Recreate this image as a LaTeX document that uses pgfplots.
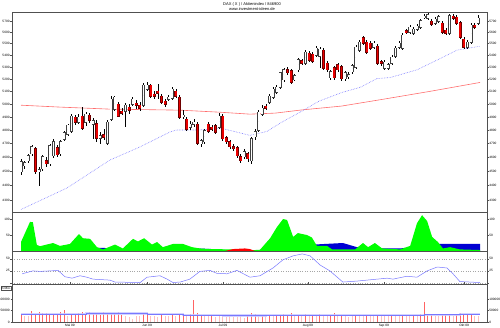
\documentclass[border=0pt]{standalone}
\usepackage{pgfplots}
\pgfplotsset{compat=1.18}
\usepackage{pgfplotstable}
\usepackage{fontspec}
\setmainfont{Liberation Sans}

\definecolor{candlered}{RGB}{235,0,0}
\definecolor{redline}{RGB}{110,0,0}
\definecolor{mared}{RGB}{255,110,110}
\definecolor{mablue}{RGB}{120,120,255}
\definecolor{areagreen}{RGB}{0,255,0}
\definecolor{areablue}{RGB}{0,0,210}
\definecolor{volred}{RGB}{255,100,100}
\definecolor{volpink}{RGB}{255,190,190}
\definecolor{volband}{RGB}{200,200,255}
\definecolor{framegray}{RGB}{80,80,80}

% daily candles (index, open, high, low, close), rising days
\pgfplotstableread{
i o h l c
0 4495 4588 4474 4566
1 4537 4573 4516 4559
2 4573 4624 4559 4610
3 4624 4690 4610 4675
5 4495 4530 4397 4509
6 4516 4617 4502 4602
8 4552 4697 4537 4682
9 4610 4734 4595 4712
11 4624 4727 4610 4712
12 4734 4793 4719 4779
13 4771 4846 4756 4838
14 4793 4922 4779 4907
16 4861 4922 4846 4899
18 4861 4937 4831 4922
20 4846 4892 4734 4869
22 4741 4786 4697 4756
24 4704 4876 4690 4861
25 4884 5063 4869 5039
26 4961 5063 4945 5055
29 4945 5008 4823 4992
31 5000 5055 4984 5039
34 4992 5166 4977 5150
35 5118 5182 5102 5150
41 5039 5070 5023 5055
42 5047 5134 5031 5118
45 4907 4953 4884 4914
47 4823 4869 4801 4846
48 4846 4884 4823 4861
50 4697 4734 4675 4719
51 4712 4808 4697 4793
55 4823 4929 4808 4907
62 4602 4660 4588 4638
64 4573 4749 4552 4734
65 4749 4808 4727 4786
66 4801 4953 4786 4937
67 4922 4992 4907 4969
69 5015 5078 5000 5063
70 5055 5134 5039 5118
71 5094 5150 5078 5134
72 5134 5262 5118 5254
73 5198 5294 5182 5278
76 5198 5246 5182 5230
77 5278 5377 5262 5360
79 5335 5444 5319 5427
82 5402 5478 5385 5461
83 5393 5470 5294 5453
86 5214 5278 5198 5262
90 5206 5270 5190 5254
91 5222 5262 5206 5238
92 5262 5327 5246 5310
93 5302 5487 5286 5470
94 5444 5531 5427 5513
98 5470 5522 5453 5504
101 5294 5360 5278 5343
102 5294 5335 5278 5319
103 5335 5402 5319 5385
104 5393 5478 5377 5461
105 5470 5522 5453 5504
106 5461 5593 5444 5575
108 5602 5664 5584 5646
109 5593 5646 5575 5628
110 5628 5673 5611 5655
111 5646 5718 5628 5700
112 5736 5763 5718 5745
113 5727 5772 5709 5754
115 5682 5736 5664 5718
116 5700 5754 5682 5736
119 5593 5763 5575 5745
124 5470 5531 5453 5513
125 5513 5682 5495 5664
127 5682 5754 5664 5727
}\up

% falling days
\pgfplotstableread{
i o h l c
4 4660 4675 4481 4495
7 4573 4602 4530 4552
10 4668 4690 4602 4617
15 4899 4914 4838 4861
17 4907 4977 4801 4816
19 4914 4929 4853 4876
21 4846 4876 4712 4741
23 4764 4808 4727 4749
27 5000 5015 4899 4907
28 4945 4969 4914 4929
30 4977 5000 4922 4953
32 5008 5031 4961 4992
33 4992 5015 4945 4969
36 5150 5166 5047 5063
37 5078 5102 5039 5063
38 5102 5158 5039 5086
39 5063 5078 5000 5015
40 5023 5039 4977 5000
43 5102 5118 5047 5063
44 5055 5070 4884 4899
46 4884 4899 4793 4808
49 4846 4861 4690 4704
52 4846 4861 4779 4793
53 4823 4838 4793 4808
54 4831 4846 4771 4786
56 4907 4922 4719 4734
57 4741 4756 4697 4712
58 4712 4727 4660 4675
59 4675 4697 4646 4660
60 4668 4682 4595 4610
61 4602 4624 4559 4573
63 4624 4638 4566 4588
68 4984 5000 4953 4969
74 5278 5302 5238 5254
75 5270 5286 5158 5174
78 5352 5369 5319 5335
80 5419 5436 5343 5360
81 5410 5427 5335 5352
84 5444 5461 5278 5294
85 5335 5352 5262 5278
87 5294 5310 5198 5214
88 5319 5335 5262 5278
89 5302 5319 5190 5206
95 5549 5566 5487 5504
96 5513 5531 5410 5427
97 5504 5522 5444 5461
99 5478 5495 5319 5335
100 5343 5360 5310 5335
107 5611 5628 5584 5602
114 5700 5718 5655 5673
117 5682 5700 5584 5602
118 5619 5637 5575 5593
120 5745 5763 5709 5727
121 5736 5754 5664 5682
122 5682 5700 5540 5558
123 5540 5558 5453 5470
126 5664 5682 5628 5646
}\dn

% moving averages
\pgfplotstableread{
i p
0 4992
10.8 4977
24.7 4961
44.2 4953
55.3 4937
63.6 4922
70.6 4930
78 4955
89 4985
100.6 5039
113.6 5102
127.5 5174
}\mared

\pgfplotstableread{
i p
0 4236
12.8 4382
24.7 4579
33 4674
41.4 4786
43.3 4801
49.7 4801
55.3 4816
60.8 4779
63.6 4760
68.3 4790
72.5 4861
78 4945
82.7 5023
89.2 5094
94.2 5134
98.9 5206
102.5 5214
110 5278
115.6 5360
121.1 5444
127.5 5478
}\mablue

\pgfplotstableread{
i v
0 30000
1 25000
2 28000
3 48000
4 35000
5 42000
6 40000
7 38000
8 30000
9 35000
10 33000
11 45000
12 50000
13 28000
14 35000
15 30000
16 38000
17 42000
18 30000
19 45000
20 35000
21 40000
22 30000
23 42000
24 38000
25 40000
26 35000
27 42000
28 30000
29 28000
30 20000
31 15000
32 25000
33 28000
34 38000
35 30000
36 25000
37 28000
38 22000
39 30000
40 25000
41 28000
42 30000
43 25000
44 35000
45 30000
46 28000
47 35000
48 95000
49 38000
50 30000
51 28000
52 25000
53 30000
54 22000
55 25000
56 28000
57 22000
58 25000
59 20000
60 22000
61 25000
62 18000
63 30000
64 40000
65 35000
66 28000
67 30000
68 25000
69 30000
70 28000
71 32000
72 30000
73 35000
74 30000
75 38000
76 28000
77 30000
78 26000
79 33000
80 28000
81 30000
82 25000
83 35000
84 28000
85 26000
86 30000
87 40000
88 28000
89 30000
90 25000
91 22000
92 28000
93 30000
94 26000
95 28000
96 30000
97 25000
98 28000
99 30000
100 26000
101 28000
102 25000
103 30000
104 28000
105 26000
106 30000
107 28000
108 25000
109 32000
110 28000
111 35000
112 88000
113 33000
114 30000
115 28000
116 26000
117 32000
118 30000
119 35000
120 28000
121 30000
122 40000
123 35000
124 32000
125 30000
126 28000
127 25000
}\vol

\newcommand{\tickfont}{\fontsize{3.2}{3.6}\selectfont}

\pgfplotsset{
  panel/.style={
    scale only axis, width=475pt, anchor=south west,
    xmin=-2.5, xmax=129.44,
    axis line style={framegray, line width=0.6pt},
    tick style={framegray, line width=0.3pt},
    tick align=outside, major tick length=1.5pt,
    tick label style={font=\tickfont, inner sep=0.7pt},
    scaled y ticks=false,
    xtick=\empty,
    clip=true,
  },
  % price panel: linear axis in ln(price), labelled with prices
  pricepanel/.style={panel, at={(12pt,116pt)}, height=200pt,
    ymin=8.347353, ymax=8.662332,
    ytick={8.366370,8.389360,8.411832,8.433811,8.455318,8.476371,8.496990,8.517193,8.536996,8.556414,8.575462,8.594154,8.612503,8.630522,8.648221},
    yticklabels={4300,4400,4500,4600,4700,4800,4900,5000,5100,5200,5300,5400,5500,5600,5700}},
  ebar/.style={only marks, mark=none, mark size=0pt,
    mark options={draw=none, fill=none}, forget plot,
    error bars/y dir=both, error bars/y explicit, error bars/error mark=none,
    error bars/error bar style={#1}},
}

\begin{document}
\begin{tikzpicture}
\useasboundingbox (0,0) rectangle (500pt,328pt);

\node[font=\fontsize{4}{5}\selectfont, inner sep=0pt] at (252pt,324pt) {DAX ( X ) / Aktienindex / 846900};
\node[font=\fontsize{4}{5}\selectfont, inner sep=0pt] at (252pt,318.5pt) {www.investment-ideen.de};

% ---------- main price panel ----------
\begin{axis}[pricepanel]
\addplot[mared, line width=0.6pt] table[x=i, y expr={ln(\thisrow{p})}] {\mared};
\addplot[mablue, densely dotted, line width=0.6pt] table[x=i, y expr={ln(\thisrow{p})}] {\mablue};
% wicks
\addplot[ebar={black, line width=0.4pt}] table[x=i, y expr={(ln(\thisrow{h})+ln(\thisrow{l}))/2}, y error expr={(ln(\thisrow{h})-ln(\thisrow{l}))/2}] {\up};
\addplot[ebar={black, line width=0.4pt}] table[x=i, y expr={(ln(\thisrow{h})+ln(\thisrow{l}))/2}, y error expr={(ln(\thisrow{h})-ln(\thisrow{l}))/2}] {\dn};
% bodies: outline then fill
\addplot[ebar={black!75, line width=3pt}] table[x=i, y expr={(ln(\thisrow{o})+ln(\thisrow{c}))/2}, y error expr={abs(ln(\thisrow{c})-ln(\thisrow{o}))/2+0.0009}] {\up};
\addplot[ebar={white, line width=1.8pt}] table[x=i, y expr={(ln(\thisrow{o})+ln(\thisrow{c}))/2}, y error expr={abs(ln(\thisrow{c})-ln(\thisrow{o}))/2}] {\up};
\addplot[ebar={redline, line width=3pt}] table[x=i, y expr={(ln(\thisrow{o})+ln(\thisrow{c}))/2}, y error expr={abs(ln(\thisrow{c})-ln(\thisrow{o}))/2+0.0009}] {\dn};
\addplot[ebar={candlered, line width=1.8pt}] table[x=i, y expr={(ln(\thisrow{o})+ln(\thisrow{c}))/2}, y error expr={abs(ln(\thisrow{c})-ln(\thisrow{o}))/2}] {\dn};
\end{axis}
\begin{axis}[pricepanel, yticklabel pos=right]
\addplot[draw=none] coordinates {(0,8.5)};
\end{axis}

% ---------- panel 2 ----------
\begin{axis}[panel, at={(12pt,77pt)}, height=39pt, ymin=0, ymax=122,
    ytick={50,100}, yticklabels={50,100}]
\addplot[fill=areablue, draw=none] coordinates {(0,10) (4.7,15) (8.1,16) (11.7,12) (16.4,8) (20,10) (22.8,10) (24.7,8) (30.3,5) (35.8,5) (41.4,3) (48.9,8) (53.3,6) (56.7,3) (63.6,1) (71.9,3) (77.5,8) (81.1,20) (89.4,25) (93.3,12) (100.6,8) (105.3,8) (110.8,15) (115.6,22) (127.5,22)} \closedcycle;
\addplot[fill=areagreen, draw=none] coordinates {(0,28) (2.5,91) (3.3,90) (4.4,19) (5.3,15) (8.9,25) (10.8,16) (13.6,22) (16.1,53) (17.2,40) (19.2,38) (21.1,12) (22.8,5) (26.1,20) (28.3,8) (31.1,38) (32.5,30) (34.2,40) (36.4,20) (37.8,28) (39.4,12) (42.2,22) (45,22) (47.5,12) (49.7,8) (52.5,6) (58.9,5) (63.6,2) (66.4,4) (69.2,40) (71.1,75) (72.8,100) (73.9,97) (75.6,44) (76.9,56) (79.4,50) (80.8,42) (82.2,16) (85,16) (86.4,5) (92.8,5) (95,25) (96.4,12) (98.3,25) (100.3,8) (105.3,5) (108.1,16) (110,87) (111.4,112) (112.8,94) (114.2,44) (115.8,28) (117.2,8) (119.2,12) (121.9,5) (127.5,3)} \closedcycle;
\addplot[fill=red, draw=none] coordinates {(56.7,0) (58.9,6) (62.2,8) (63.6,6) (65,0)} \closedcycle;
\end{axis}
\begin{axis}[panel, at={(12pt,77pt)}, height=39pt, ymin=0, ymax=122,
    ytick={50,100}, yticklabels={50,100}, yticklabel pos=right]
\addplot[draw=none] coordinates {(0,50)};
\end{axis}

% ---------- panel 3 ----------
\begin{axis}[panel, at={(12pt,44pt)}, height=33pt, ymin=-2, ymax=66,
    ytick={0,25,50}, yticklabels={,25,50},
    ymajorgrids, grid style={dotted, gray!70, line width=0.4pt}]
\addplot[mablue, line width=0.5pt] coordinates {(0.3,19) (3.3,25) (5.3,24) (8.1,25) (10.3,26) (12.2,13) (14.2,10) (16.4,15) (18.3,12) (20,8) (24.7,6) (26.1,2) (33.1,1) (35,12) (38.6,15) (40.6,8) (42.2,1) (44.2,2) (46.9,8) (49.7,24) (52.5,26) (54.4,20) (57.2,19) (60,26) (63.6,12) (66.4,15) (70,31) (72.8,48) (75.6,56) (78.1,60) (80.3,56) (83.1,37) (85.8,25) (89.4,2) (93.3,4) (96.1,6) (98.9,8) (101.7,10) (103.3,8) (107.2,14) (110,12) (112.8,25) (115.6,33) (118.3,31) (120,19) (121.9,3) (127.5,1)};
\end{axis}
\begin{axis}[panel, at={(12pt,44pt)}, height=33pt, ymin=-2, ymax=66,
    ytick={0,25,50}, yticklabels={,25,50}, yticklabel pos=right]
\addplot[draw=none] coordinates {(0,25)};
\end{axis}

% ---------- volume panel ----------
\begin{axis}[panel, at={(12pt,6pt)}, height=38pt, ymin=0, ymax=165000,
    ytick={0,50000,100000}, yticklabels={0,50000,100000},
    xtick={13.6,35,56.1,79.7,100.8,123.1},
    xticklabels={Mai 09,Jun 09,Jul 09,Aug 09,Sep 09,Okt 09}]
\addplot[ycomb, volpink, line width=0.9pt, mark=none, y filter/.expression={y<30000 ? y : nan}] table[x=i, y=v] {\vol};
\addplot[ycomb, volred, line width=0.9pt, mark=none, y filter/.expression={y<30000 ? nan : y}] table[x=i, y=v] {\vol};
\addplot[const plot, volband, line width=2.2pt, opacity=0.8] coordinates {(0,33000) (18,37000) (35,33000) (45,29000) (56,28000) (68,30000) (79,31000) (90,29000) (101,30000) (112,32000) (122,34000) (127.5,34000)};
\addplot[const plot, mablue, line width=0.5pt] coordinates {(0,33000) (18,37000) (35,33000) (45,29000) (56,28000) (68,30000) (79,31000) (90,29000) (101,30000) (112,32000) (122,34000) (127.5,34000)};
\end{axis}
\begin{axis}[panel, at={(12pt,6pt)}, height=38pt, ymin=0, ymax=165000,
    ytick={0,50000,100000}, yticklabels={0,50000,100000}, yticklabel pos=right]
\addplot[draw=none] coordinates {(0,0)};
\end{axis}

\node[draw=framegray, line width=0.3pt, font=\fontsize{3.2}{4}\selectfont, inner sep=0.6pt, anchor=north west] at (0.5pt,41.5pt) {in Mio.};
\end{tikzpicture}
\end{document}
